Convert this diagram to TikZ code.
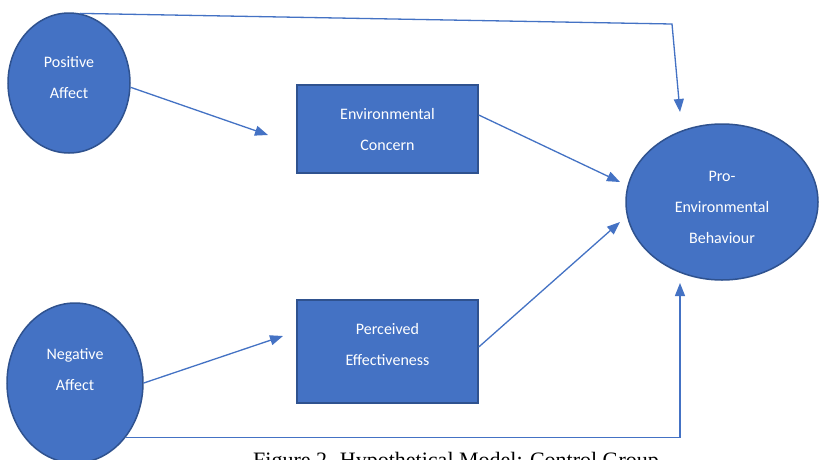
\documentclass[tikz,border=0pt]{standalone}
\usepackage{fontspec}
\setmainfont{Carlito}
\newfontfamily\capfont{Liberation Serif}
\usetikzlibrary{shapes.geometric,arrows.meta,calc}
\definecolor{fillblue}{HTML}{4472C4}
\definecolor{edgeblue}{HTML}{2F528F}
\definecolor{arrblue}{HTML}{4472C4}
\begin{document}
\begin{tikzpicture}[x=1pt,y=-1pt,
  shapebase/.style={fill=fillblue,draw=edgeblue,line width=1.5pt,inner sep=0pt},
  ovalnode/.style={shapebase,ellipse},
  boxnode/.style={shapebase,rectangle},
  txt/.style={text=white,align=center,font=\fontsize{16}{31}\selectfont,inner sep=0pt},
  arr/.style={draw=arrblue,line width=1.3pt,-{Triangle[length=13pt,width=10pt]}},
  plainline/.style={draw=arrblue,line width=1.3pt}]
\clip[use as bounding box] (0,0) rectangle (822,459);
\fill[white] (0,0) rectangle (822,459);

% shapes
\node[ovalnode,minimum width=122pt,minimum height=140pt] (pa) at (69,83) {};
\node[ovalnode,minimum width=136pt,minimum height=160pt] (na) at (75,383) {};
\node[boxnode,minimum width=181pt,minimum height=88pt] (ec) at (387.5,129) {};
\node[boxnode,minimum width=181pt,minimum height=103pt] (pe) at (387.5,351.5) {};
\node[ovalnode,minimum width=192pt,minimum height=156pt] (peb) at (722,202) {};

% texts
\node[txt] (pat) at (69,78) {Positive\\Affect};
\node[txt] (nat) at (75,370) {Negative\\Affect};
\node[txt] (ect) at (387.5,129) {Environmental\\Concern};
\node[txt] (pet) at (387.5,344) {Perceived\\Effectiveness};
\node[txt] (pebt) at (722,207) {Pro-\\Environmental\\Behaviour};

% free ends
\coordinate (c1) at (672,24);
\coordinate (t1) at (680,112);
\coordinate (t2) at (680,283);
\coordinate (t3) at (268,135);
\coordinate (t4) at (283,336);
\coordinate (t5) at (620,182);
\coordinate (t6) at (620,222);

% connectors
\draw[arr] (pa.81) -- (c1) -- (t1);
\draw[arr] (pa.-4) -- (t3);
\draw[arr] (na.east) -- (t4);
\draw[arr] ([yshift=14pt]ec.east) -- (t5);
\draw[arr] ([yshift=4.5pt]pe.east) -- (t6);
\draw[arr] (na.-47.7) -| (t2);

% caption (cut off by the picture's lower edge)
\node[anchor=base west,inner sep=0pt,font=\capfont\fontsize{22}{26}\selectfont] (cap) at (253,467.6) {Figure 2. Hypothetical Model: Control Group};
\end{tikzpicture}
\end{document}
